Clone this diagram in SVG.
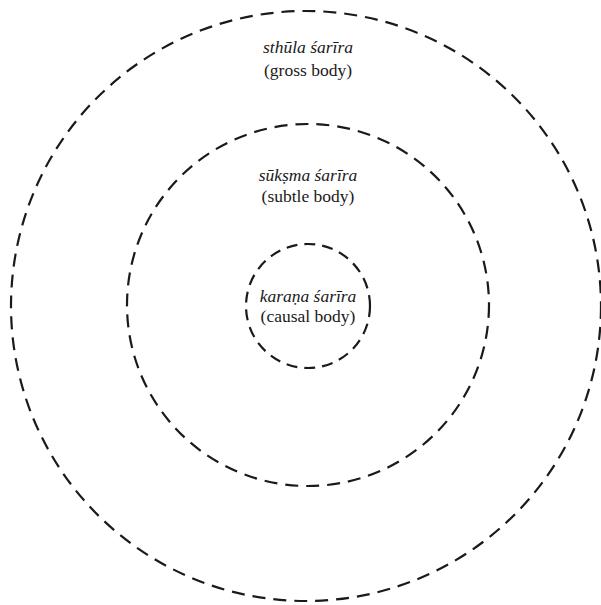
<svg xmlns="http://www.w3.org/2000/svg" width="601" height="605" viewBox="0 0 601 605">
<style>
.ring{fill:none;stroke:#1a1a1a;stroke-width:2.2;stroke-dasharray:13 8}
text{font-family:"Liberation Serif","DejaVu Serif",serif;font-size:17.5px;fill:#1a1a1a;text-anchor:middle}
.it{font-style:italic}
</style>
<rect width="601" height="605" fill="#fff"/>
<g id="gross">
<circle class="ring" cx="306" cy="306" r="295"/>
<text class="it" x="308" y="53">sthūla śarīra</text>
<text x="308" y="76">(gross body)</text>
</g>
<g id="subtle">
<circle class="ring" cx="308" cy="305" r="181"/>
<text class="it" x="308" y="181">sūkṣma śarīra</text>
<text x="308" y="202">(subtle body)</text>
</g>
<g id="causal">
<circle class="ring" cx="308" cy="306" r="62" style="stroke-dasharray:11 7"/>
<text class="it" x="308" y="302">karaṇa śarīra</text>
<text x="308" y="322">(causal body)</text>
</g>
<g id="connectors"></g>
</svg>
